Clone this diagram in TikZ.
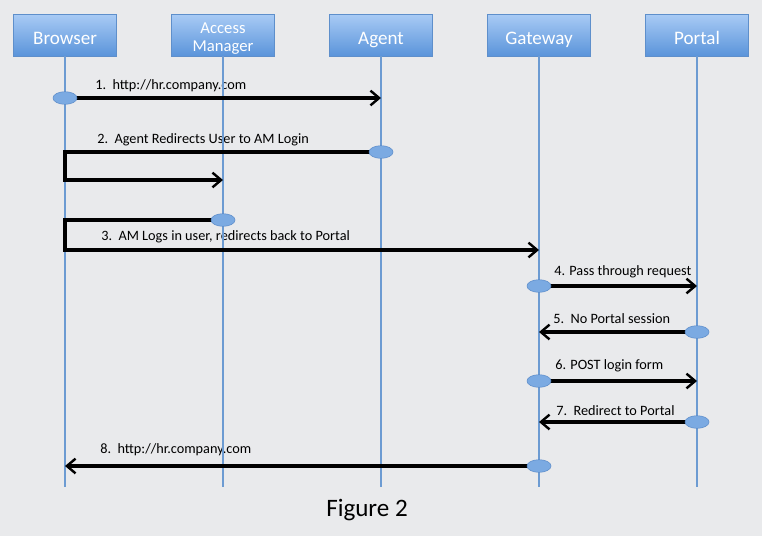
\documentclass[tikz,border=0pt]{standalone}
\usepackage{fontspec}
\setmainfont{Carlito}
\usetikzlibrary{positioning,arrows.meta,shapes.geometric}
\definecolor{bg}{HTML}{E9EAEC}
\definecolor{hdtop}{HTML}{A9CBF5}
\definecolor{hdbot}{HTML}{5A94DA}
\definecolor{hdline}{HTML}{5E8FCB}
\definecolor{lifeblue}{HTML}{6C9BD2}
\definecolor{dotfill}{HTML}{7BAAE2}
\definecolor{dotline}{HTML}{5A8BC9}
\tikzstyle{block} = [rectangle, draw=hdline, top color=hdtop, bottom color=hdbot,
    text=white, minimum width=77pt, minimum height=31.5pt, align=center,
    font=\fontsize{14.3}{13.5}\selectfont, inner sep=1pt,
    text height=13.7pt, text depth=0pt]
\tikzstyle{life} = [draw=lifeblue, line width=2.2pt]
\tikzstyle{line} = [draw, line width=2.3pt, miter limit=4,
    -{Straight Barb[length=6.5pt,width=11pt,line width=1.8pt]}]
\tikzstyle{dot} = [ellipse, draw=dotline, fill=dotfill, minimum width=18pt,
    minimum height=9.5pt, inner sep=0pt]
\tikzstyle{msg} = [font=\fontsize{10.7}{12}\selectfont, inner sep=0pt, anchor=west]

\begin{document}
\begin{tikzpicture}[x=0.75pt, y=-0.75pt, node distance=118.5pt]
		\fill[bg] (0,0) rectangle (762,536);
		\node [block] (browser) at (65,35) {Browser};
		\node [block, right of=browser, font=\fontsize{12.5}{13.5}\selectfont,
			text height=24.5pt, text depth=0pt] (am) {Access\\Manager};
		\node [block, right of=am] (agent) {Agent};
		\node [block, right of=agent] (gateway) {Gateway};
		\node [block, right of=gateway] (portal) {Portal};
		
		% message end points
		\coordinate (s1) at (browser |- 0,98);
		\coordinate (e1) at (agent |- 0,98);
		\coordinate (s2) at (agent |- 0,152);
		\coordinate (k2) at (browser |- 0,180);
		\coordinate (e2) at (am |- 0,180);
		\coordinate (s3) at (am |- 0,220);
		\coordinate (k3) at (browser |- 0,250);
		\coordinate (e3) at (gateway |- 0,250);
		\coordinate (s4) at (gateway |- 0,286);
		\coordinate (e4) at (portal |- 0,286);
		\coordinate (s5) at (portal |- 0,332);
		\coordinate (e5) at (gateway |- 0,332);
		\coordinate (s6) at (gateway |- 0,381);
		\coordinate (e6) at (portal |- 0,381);
		\coordinate (s7) at (portal |- 0,422);
		\coordinate (e7) at (gateway |- 0,422);
		\coordinate (s8) at (gateway |- 0,466);
		\coordinate (e8) at (browser |- 0,466);
		
		\node [msg] (l1) at (95,86) {1.\ \ http://hr.company.com};
		\node [msg] (l2) at (97,140) {2.\ \ Agent Redirects User to AM Login};
		\node [msg] (l3) at (101,237) {3.\ \ AM Logs in user, redirects back to Portal};
		\node [msg] (l4) at (554,272) {4. Pass through request};
		\node [msg] (l5) at (553,319) {5.\ \ No Portal session};
		\node [msg] (l6) at (555,366) {6. POST login form};
		\node [msg] (l7) at (556,411) {7.\ \ Redirect to Portal};
		\node [msg] (l8) at (100,450) {8.\ \ http://hr.company.com};
		
		\foreach \n in {browser,am,agent,gateway,portal}
			\draw [life] (\n.south) -- (\n |- 0,487);
		
		\path [line] (s1) -- (e1);
		\path [line] (s2) -| (k2) -- (e2);
		\path [line] (s3) -| (k3) -- (e3);
		\path [line] (s4) -- (e4);
		\path [line] (s5) -- (e5);
		\path [line] (s6) -- (e6);
		\path [line] (s7) -- (e7);
		\path [line] (s8) -- (e8);
		
		\foreach \s in {s1,s2,s3,s4,s5,s6,s7,s8}
			\node [dot] (d\s) at (\s) {};
		
		\node [font=\fontsize{18.8}{22}\selectfont] (fig) at (367,510) {Figure 2};
	\end{tikzpicture}
\end{document}
